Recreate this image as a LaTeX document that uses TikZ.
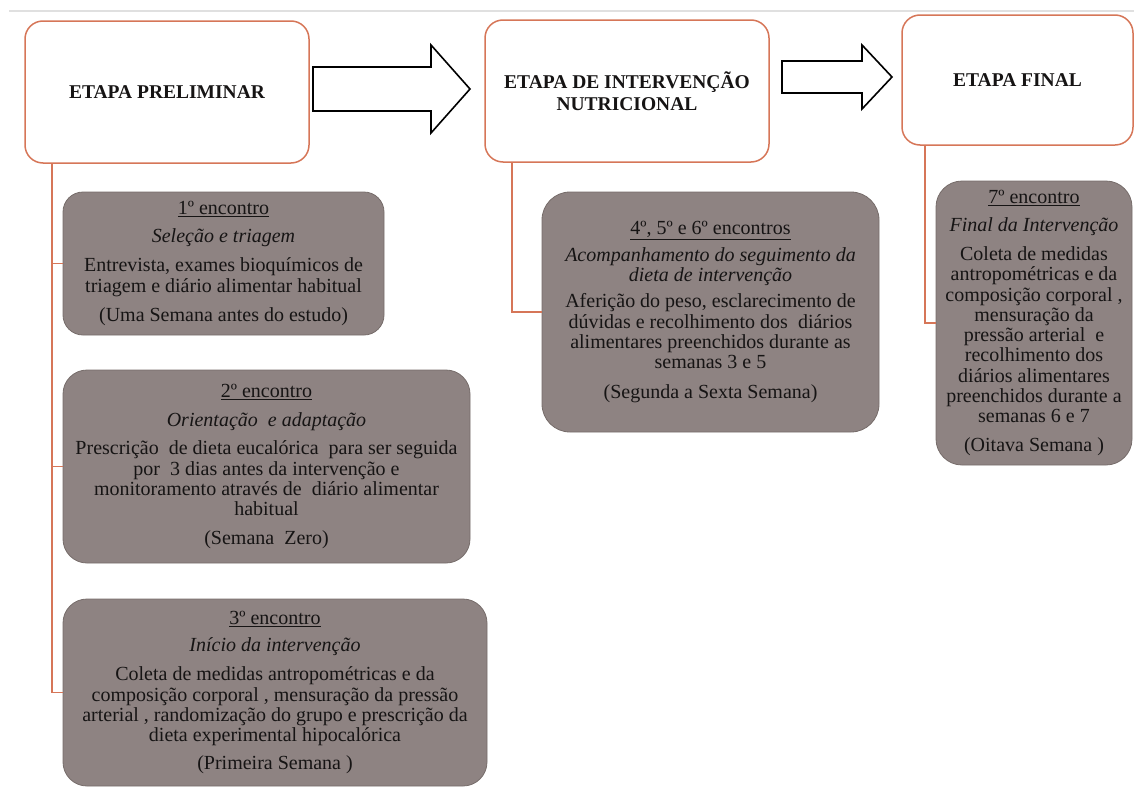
\documentclass[tikz,border=0pt]{standalone}
\usepackage{fontspec}
\setmainfont{Liberation Serif}
\definecolor{orng}{RGB}{214,118,88}
\definecolor{gfill}{RGB}{142,131,130}
\definecolor{gedge}{RGB}{118,108,106}
\definecolor{txt}{RGB}{22,20,20}
\begin{document}
\begin{tikzpicture}[x=1pt,y=-1pt,
  stage/.style={draw=orng, line width=1.5pt, rounded corners=18pt, fill=white, inner sep=0pt, align=center, text=txt, font=\fontsize{19.5}{22}\selectfont\bfseries},
  enc/.style={draw=gedge, line width=0.8pt, fill=gfill, inner sep=0pt, align=center, text=txt, font=\fontsize{20}{20.3}\selectfont},
  link/.style={draw=orng, line width=1.7pt},
  blockarrow/.style={draw=black, line width=1.6pt, fill=white, line join=miter},
  topline/.style={draw=black!12, line width=1.2pt}]
\useasboundingbox (0,0) rectangle (1134,787);
\draw[topline] (9,11) -- (1134,11);

% stage boxes
\node[stage, minimum width=284pt, minimum height=142pt] (pre) at (167,92) {ETAPA PRELIMINAR};
\node[stage, minimum width=284pt, minimum height=142pt] (int) at (627,91) {ETAPA DE INTERVENÇÃO\\NUTRICIONAL};
\node[stage, minimum width=231pt, minimum height=130pt] (fin) at (1017.5,80) {ETAPA FINAL};

% block arrows
\draw[blockarrow] (313,67) -- (431,67) -- (431,45) -- (470,89) -- (431,133) -- (431,111) -- (313,111) -- cycle;
\draw[blockarrow] (782,61) -- (862,61) -- (862,45) -- (892,77) -- (862,109) -- (862,93) -- (782,93) -- cycle;

% encounter boxes
\node[enc, rounded corners=20pt, minimum width=321pt, minimum height=143pt] (e1) at (223.5,263.5)
 {\underline{1º encontro}\\[8.5pt]
  \textit{Seleção e triagem}\\[8.5pt]
  Entrevista, exames bioquímicos de\\
  triagem e diário alimentar habitual\\[9.5pt]
  (Uma Semana antes do estudo)};

\node[enc, rounded corners=24pt, minimum width=407pt, minimum height=193pt] (e2) at (266.5,466.5)
 {\underline{2º encontro}\\[8.5pt]
  \textit{Orientação\ \ e adaptação}\\[8.5pt]
  Prescrição\ \ de dieta eucalórica\ \ para ser seguida\\
  por\ \ 3 dias antes da intervenção e\\
  monitoramento através de\ \ diário alimentar\\
  habitual\\[8.5pt]
  (Semana\ \ Zero)};

\node[enc, rounded corners=24pt, minimum width=424pt, minimum height=187pt] (e3) at (275,692.5)
 {\underline{3º encontro}\\[7pt]
  \textit{Início da intervenção}\\[9pt]
  Coleta de medidas antropométricas e da\\
  composição corporal , mensuração da pressão\\
  arterial , randomização do grupo e prescrição da\\
  dieta experimental hipocalórica\\[8pt]
  (Primeira Semana )};

\node[enc, rounded corners=28pt, minimum width=337pt, minimum height=240pt] (e4) at (710.5,312)
 {\underline{4º, 5º e 6º encontros}\\[6pt]
  \textit{Acompanhamento do seguimento da}\\
  \textit{dieta de intervenção}\\[6pt]
  Aferição do peso, esclarecimento de\\
  dúvidas e recolhimento dos\ \ diários\\
  alimentares preenchidos durante as\\
  semanas 3 e 5\\[9pt]
  (Segunda a Sexta Semana)};

\node[enc, rounded corners=26pt, minimum width=196pt, minimum height=284pt] (e5) at (1034,323)
 {\underline{7º encontro}\\[7.5pt]
  \textit{Final da Intervenção}\\[9pt]
  Coleta de medidas\\
  antropométricas e da\\
  composição corporal ,\\
  mensuração da\\
  pressão arterial\ \ e\\
  recolhimento dos\\
  diários alimentares\\
  preenchidos durante a\\
  semanas 6 e 7\\[8.5pt]
  (Oitava Semana )};

% connectors
\draw[link] ([xshift=28pt]pre.south west) |- (e1.west);
\draw[link] ([xshift=28pt]pre.south west) |- (e2.west);
\draw[link] ([xshift=28pt]pre.south west) |- (e3.west);
\draw[link] ([xshift=28pt]int.south west) |- (e4.west);
\draw[link] ([xshift=24pt]fin.south west) |- (e5.west);
\end{tikzpicture}
\end{document}
